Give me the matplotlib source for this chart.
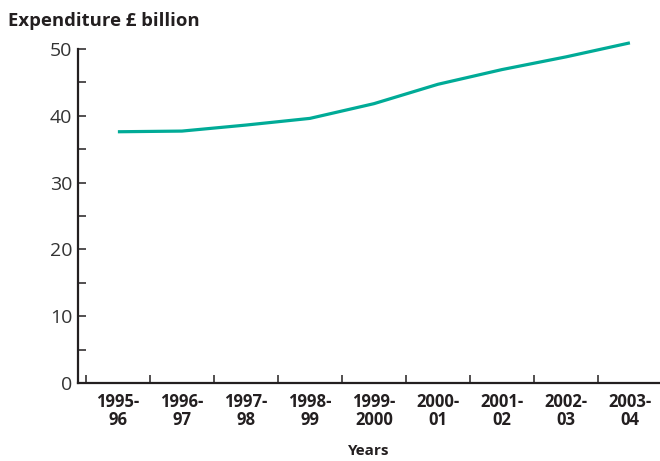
import matplotlib
matplotlib.use('Agg')
from matplotlib import pyplot as plt
from matplotlib.ticker import MultipleLocator

years = ['1995-\n96', '1996-\n97', '1997-\n98', '1998-\n99', '1999-\n2000',
         '2000-\n01', '2001-\n02', '2002-\n03', '2003-\n04']
expenditure = [37.6, 37.7, 38.6, 39.6, 41.8, 44.7, 46.9, 48.8, 50.9]

LINE_COLOR = '#00ab97'
TEXT_COLOR = '#231f20'
plt.rcParams['font.family'] = ['Open Sans', 'DejaVu Sans']

fig = plt.figure(figsize=(6.6, 4.61), dpi=100)
ax = fig.add_axes([0.118, 0.169, 0.882, 0.725])

x = list(range(len(years)))
ax.plot(x, expenditure, color=LINE_COLOR, linewidth=2.3, solid_capstyle='butt', clip_on=False)

ax.set_xlim(-0.625, 8.47)
ax.set_ylim(0, 50)

for side in ['top', 'right']:
    ax.spines[side].set_visible(False)
for side in ['left', 'bottom']:
    ax.spines[side].set_linewidth(1.6)
    ax.spines[side].set_color(TEXT_COLOR)

# y axis: labelled every 10, unlabelled marks every 5
ax.yaxis.set_major_locator(MultipleLocator(10))
ax.yaxis.set_minor_locator(MultipleLocator(5))
ax.tick_params(axis='y', which='both', direction='in', length=6, width=1.1,
               color=TEXT_COLOR, labelsize=14, labelcolor='#333333', pad=4)

# x axis: marks between years, labels under each year
ax.set_xticks([i - 0.5 for i in x])
ax.set_xticklabels([])
ax.set_xticks(x, minor=True)
ax.set_xticklabels(years, minor=True, fontweight='bold', fontsize=12,
                   linespacing=1.0)
ax.tick_params(axis='x', which='major', direction='in', length=6, width=1.1,
               color=TEXT_COLOR)
ax.tick_params(axis='x', which='minor', length=0, pad=7, labelcolor=TEXT_COLOR)

ax.set_xlabel('Years', fontsize=11, fontweight='bold', color=TEXT_COLOR, labelpad=11)
fig.text(0.012, 0.955, 'Expenditure £ billion', fontsize=13.3, fontweight='bold',
         color=TEXT_COLOR, va='center', ha='left')

fig.savefig('out.png', dpi=100)
